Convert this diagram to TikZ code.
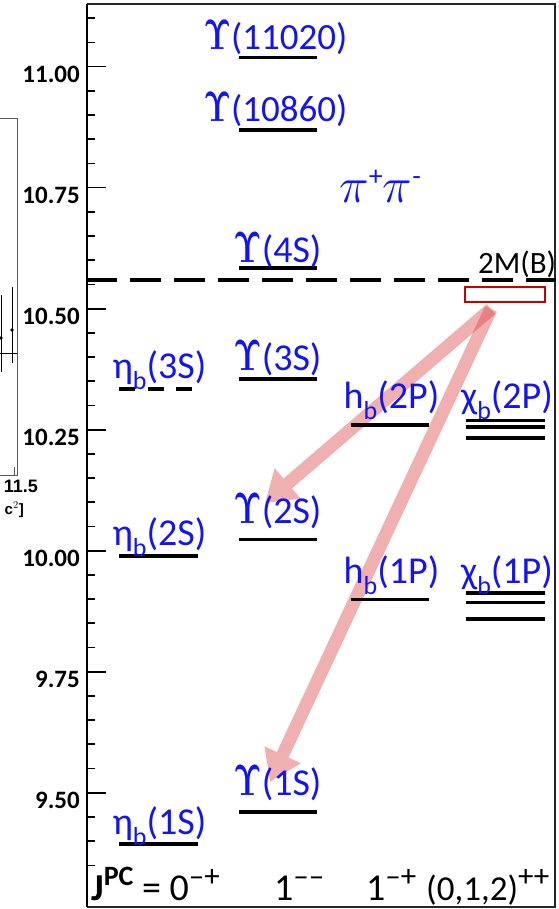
\RequirePackage{fix-cm}
\documentclass[tikz,border=0pt]{standalone}
\usepackage[no-math]{fontspec}
\setmainfont{Carlito}
\newfontfamily\plotfont{Liberation Sans}
\usepackage{graphicx}
\usetikzlibrary{arrows.meta}

\definecolor{statecol}{RGB}{20,20,240}
\definecolor{boxred}{RGB}{200,0,0}
\definecolor{decaycol}{RGB}{217,57,57}

\newcommand{\Yps}{\scalebox{0.85}[1.15]{$\mathbf{\Upsilon}$}}
\newcommand{\bsub}{\raisebox{-11pt}{\fontsize{26}{26}\selectfont b}}
\newcommand{\hi}[2]{\raisebox{#1}{\fontsize{28}{28}\selectfont #2}}
\newcommand{\qn}[2]{\raisebox{#1}{\fontsize{31}{31}\selectfont #2}}

\begin{document}
\begin{tikzpicture}[x=1pt, y=-1pt,
  declare function={ym(\m)=66.7+(11-\m)*484;},
  level/.style={line width=3.5pt, black},
  thresh/.style={line width=4pt, dash pattern=on 31pt off 13pt},
  frame/.style={line width=1.6pt, black!85},
  tickmark/.style={line width=1.6pt},
  ticklbl/.style={anchor=base east, inner sep=0pt, font=\fontsize{25}{25}\selectfont\bfseries},
  state/.style={anchor=base, inner sep=0pt, text=statecol, font=\fontsize{38}{40}\selectfont},
  jpcrow/.style={anchor=base west, inner sep=0pt, font=\fontsize{38}{40}\selectfont},
  decay/.style={line width=13pt, draw=decaycol, -{Triangle[length=30pt, width=38pt]}},
  plotline/.style={line width=0.8pt, black!65},
]
\useasboundingbox (0,0) rectangle (558,909);

%% --- Cut-off neighbouring plot (left edge) ---
\begin{scope}
  \clip (0,100) rectangle (45,520);
  \draw[plotline] (0,118) -- (17,118) -- (17,475) -- (0,475);
  \draw[plotline] (14,475) -- (14,467);
  \draw[plotline, black] (0,353) -- (17,353);
  \draw[plotline, black] (12,287) -- (12,363);
  \draw[plotline, black] (1,295) -- (1,372);
  \fill (12,330) circle (1.8);
  \fill (1,338) circle (1.8);
  \node[anchor=base east, inner sep=0pt, font=\plotfont\bfseries\fontsize{18}{18}\selectfont] (xmax) at (38,492) {11.5};
  \node[anchor=base east, inner sep=0pt, font=\plotfont\bfseries\fontsize{15}{15}\selectfont] (xunit) at (24,514) {c$^2$]};
\end{scope}

%% --- Decays from above threshold (behind the labels) ---
\coordinate (src) at (491,309);
\coordinate (t2S) at (265,503);
\coordinate (t1S) at (270,782);
\begin{scope}[transparency group, opacity=0.4]
  \draw[decay] (src) -- (t2S);
\end{scope}
\begin{scope}[transparency group, opacity=0.4]
  \draw[decay] (src) -- (t1S);
\end{scope}

%% --- Frame and mass axis ---
\draw[frame] (87,4) -- (555,4) -- (555,907) -- (87,907);
\draw[line width=2.2pt] (87,4) -- (87,907);
\foreach \i in {0,...,35}
  \draw[tickmark] (87,{ym(9.35+0.05*\i)}) -- (95,{ym(9.35+0.05*\i)});
\foreach \t in {9.50,9.75,10.00,10.25,10.50,10.75,11.00} {
  \draw[tickmark] (87,{ym(\t)}) -- (106,{ym(\t)});
  \node[ticklbl] (tick\t) at (80,{ym(\t)+15.5}) {\t};
}

%% --- B Bbar threshold ---
\draw[thresh] (86,{ym(10.559)}) -- (556,{ym(10.559)});
\node[draw=boxred, line width=2pt, fill=white, minimum width=80pt, minimum height=15pt, inner sep=0pt] (thr) at (505,294.5) {};
\node[anchor=base west, inner sep=0pt, font=\fontsize{31}{31}\selectfont] (twoMB) at (478,273) {2M(B)};
\node[anchor=base west, inner sep=0pt, text=statecol, font=\fontsize{50}{50}\selectfont] (pipi) at (339,203) {$\pi$\hi{17pt}{+}$\pi$\hi{17pt}{-}};

%% --- 0-+ : eta_b ---
\draw[level, dash pattern=on 16pt off 12.5pt] (119,{ym(10.334)}) -- (192,{ym(10.334)});
\draw[level] (119,{ym(9.989)}) -- (198,{ym(9.989)});
\draw[level] (119,{ym(9.394)}) -- (198,{ym(9.394)});
\node[state] (e3S) at (159.5,378) {η\bsub(3S)};
\node[state] (e2S) at (159.5,545) {η\bsub(2S)};
\node[state] (e1S) at (159.5,834) {η\bsub(1S)};

%% --- 1-- : Upsilon ---
\foreach \m in {11.019,10.869,10.584,10.355,10.023,9.460}
  \draw[level] (239,{ym(\m)}) -- (317,{ym(\m)});
\node[state, font=\fontsize{37}{40}\selectfont] (u11020) at (275.5,50) {\Yps(11020)};
\node[state, font=\fontsize{37}{40}\selectfont] (u10860) at (275.5,122) {\Yps(10860)};
\node[state] (u4S) at (277.5,262) {\Yps(4S)};
\node[state] (u3S) at (277.5,370) {\Yps(3S)};
\node[state] (u2S) at (277.5,523) {\Yps(2S)};
\node[state] (u1S) at (277.5,795) {\Yps(1S)};

%% --- 1+- : h_b ---
\draw[level] (351,{ym(10.260)}) -- (429,{ym(10.260)});
\draw[level] (351,{ym(9.899)}) -- (429,{ym(9.899)});
\node[state] (h2P) at (391.5,408) {h\bsub(2P)};
\node[state] (h1P) at (391.5,583) {h\bsub(1P)};

%% --- (0,1,2)++ : chi_b ---
\foreach \m in {10.2687,10.2555,10.2325,9.9122,9.8928,9.8594}
  \draw[level] (466,{ym(\m)}) -- (545,{ym(\m)});
\node[state] (c2P) at (507,408) {χ\bsub(2P)};
\node[state] (c1P) at (507,583) {χ\bsub(1P)};

%% --- J^PC row ---
\node[jpcrow] (jpc) at (91,900) {\textbf{J}\hi{15pt}{\textbf{PC}} = 0\qn{14pt}{–+}};
\node[jpcrow] (jmm) at (274,900) {1\qn{14pt}{––}};
\node[jpcrow] (jmp) at (366,900) {1\qn{14pt}{–+}};
\node[jpcrow, font=\fontsize{35}{40}\selectfont] (jpp) at (426,900) {(0,1,2)\qn{14pt}{++}};

\end{tikzpicture}
\end{document}
